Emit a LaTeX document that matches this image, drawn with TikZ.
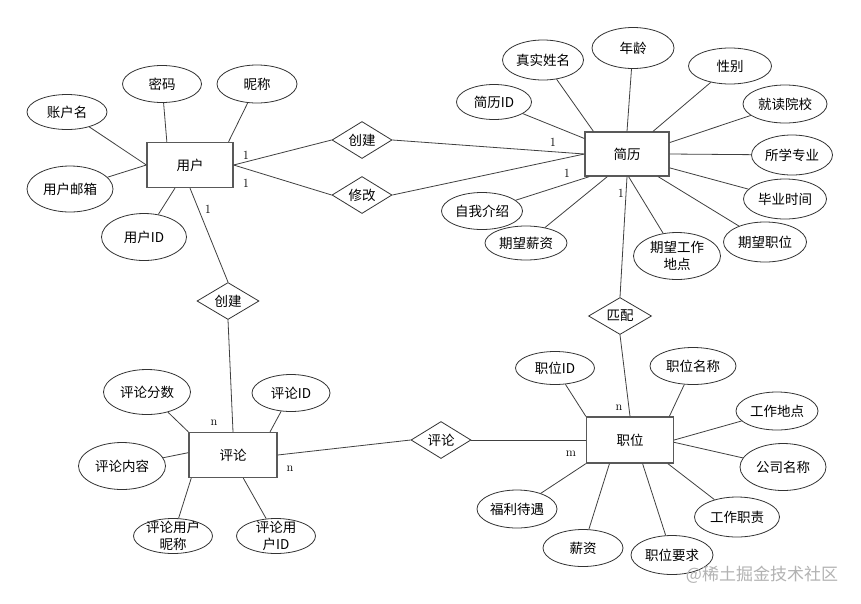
\documentclass[tikz,border=0pt]{standalone}
\usepackage{fontspec}
\newfontfamily\cjk{Noto Sans CJK SC}
\usetikzlibrary{shapes.geometric}

\begin{document}
\begin{tikzpicture}[x=1pt, y=-1pt, line width=0.8pt]
        \tikzset{entity/.style={rectangle, draw=black!65, line width=1.3pt, inner sep=0pt, minimum width=86pt, minimum height=45pt, font=\cjk\fontsize{13.5}{17}\selectfont},
          attr/.style={ellipse, draw=black!80, inner sep=0pt, minimum width=82pt, minimum height=38pt, align=center, font=\cjk\fontsize{13.5}{17}\selectfont},
          rel/.style={diamond, draw=black!80, aspect=1.6, inner sep=0pt, minimum width=60pt, minimum height=37pt, font=\cjk\fontsize{13.5}{17}\selectfont},
          card/.style={inner sep=0pt, font=\fontsize{12.5}{14}\selectfont},
          link/.style={draw=black!75}}
        \fill[white] (0,0) rectangle (861,603);
        \useasboundingbox (0,0) rectangle (861,603);
        % entities
        \node[entity] (yh) at (190,165) {用户};
        \node[entity, minimum width=84pt, minimum height=44pt] (jl) at (627,154) {简历};
        \node[entity, minimum width=88pt] (pl) at (233,455) {评论};
        \node[entity, minimum width=87pt, minimum height=46pt] (zw) at (630,440) {职位};
        % relations
        \node[rel] (cj1) at (362,140) {创建};
        \node[rel] (xg) at (362,195) {修改};
        \node[rel, minimum width=62pt] (cj2) at (228,301) {创建};
        \node[rel, minimum width=63pt] (pp) at (620,316) {匹配};
        \node[rel] (plr) at (441,440) {评论};
        % attributes of the user
        \node[attr, minimum width=80pt, minimum height=35pt] (zhm) at (67,112) {账户名};
        \node[attr, minimum width=79pt, minimum height=37pt] (mm) at (162,84) {密码};
        \node[attr, minimum width=80pt] (nc) at (257,84) {昵称};
        \node[attr, minimum width=86pt, minimum height=46pt] (yx) at (70,189) {用户邮箱};
        \node[attr, minimum width=85pt, minimum height=47pt] (yid) at (144,237) {用户ID};
        % attributes of the resume
        \node[attr, minimum width=75pt, minimum height=35pt] (jlid) at (494,102) {简历ID};
        \node[attr, minimum width=81pt, minimum height=40pt] (xm) at (543,60) {真实姓名};
        \node[attr, minimum width=82pt, minimum height=41pt] (nl) at (633,48) {年龄};
        \node[attr, minimum width=83pt, minimum height=36pt] (xb) at (730,66) {性别};
        \node[attr, minimum width=84pt] (jd) at (785,104) {就读院校};
        \node[attr, minimum width=81pt, minimum height=40pt] (zy) at (792,155) {所学专业};
        \node[attr, minimum width=83pt, minimum height=40pt] (by) at (785,199) {毕业时间};
        \node[attr, minimum width=83pt, minimum height=40pt] (qzw) at (765,242) {期望职位};
        \node[attr, minimum width=87pt, minimum height=47pt] (qdd) at (677,256) {期望工作\\地点};
        \node[attr, minimum width=82pt, minimum height=34pt] (qxz) at (526,243) {期望薪资};
        \node[attr, minimum width=81pt, minimum height=37pt] (zwjs) at (482,211) {自我介绍};
        % attributes of the comment
        \node[attr, minimum width=87pt, minimum height=45pt] (fs) at (147,392) {评论分数};
        \node[attr, minimum width=78pt, minimum height=37pt] (plid) at (291,393) {评论ID};
        \node[attr, minimum width=87pt, minimum height=47pt] (nr) at (122,466) {评论内容};
        \node[attr, minimum width=79pt, minimum height=35pt, inner ysep=-3.5pt] (plnc) at (173,536) {评论用户\\昵称};
        \node[attr, minimum width=79pt, minimum height=35pt, inner ysep=-3.5pt] (pluid) at (276,536) {评论用\\户ID};
        % attributes of the job
        \node[attr, minimum width=79pt, minimum height=33pt] (zwid) at (555,368) {职位ID};
        \node[attr, minimum width=86pt, minimum height=37pt] (zwmc) at (693,366) {职位名称};
        \node[attr, minimum width=82pt] (gzdd) at (777,411) {工作地点};
        \node[attr, minimum width=86pt, minimum height=47pt] (gsmc) at (783,467) {公司名称};
        \node[attr, minimum width=85pt, minimum height=40pt] (gzzz) at (737,517) {工作职责};
        \node[attr, minimum width=82pt, minimum height=39pt] (zwyq) at (672,555) {职位要求};
        \node[attr, minimum width=80pt, minimum height=37pt] (xz) at (583,548) {薪资};
        \node[attr, minimum width=80pt] (fl) at (517,509) {福利待遇};
        % cardinalities
        \node[card] (c1) at (246,155) {1};
        \node[card] (c2) at (246,183) {1};
        \node[card] (c3) at (208,209) {1};
        \node[card] (c4) at (553,142) {1};
        \node[card] (c5) at (567,173) {1};
        \node[card] (c6) at (621,193) {1};
        \node[card] (c7) at (619,408) {n};
        \node[card] (c8) at (571,454) {m};
        \node[card] (c9) at (214,423) {n};
        \node[card] (c10) at (290,469) {n};
        % relation links
        \draw[link] (yh.east) -- (cj1.west);
        \draw[link] (yh.east) -- (xg.west);
        \draw[link] (cj1.east) -- (jl.west);
        \draw[link] (xg.east) -- (jl.west);
        \draw[link] (yh.south) -- (cj2.north);
        \draw[link] (cj2.south) -- (pl.north);
        \draw[link] (jl.south) -- (pp.north);
        \draw[link] (pp.south) -- (zw.north);
        \draw[link] (pl.east) -- (plr.west);
        \draw[link] (plr.east) -- (zw.west);
        % attribute links
        \draw[link] (zhm) -- (yh.west);
        \draw[link] (yx) -- (yh.west);
        \draw[link] (mm) -- (yh.135);
        \draw[link] (nc) -- (yh.31);
        \draw[link] (yid) -- (yh.237);
        \draw[link] (jlid) -- (jl.160);
        \draw[link] (xm) -- (jl.146);
        \draw[link] (nl) -- (jl.north);
        \draw[link] (xb) -- (jl.41);
        \draw[link] (jd) -- (jl.15);
        \draw[link] (zy) -- (jl.east);
        \draw[link] (by) -- (jl.-18);
        \draw[link] (qzw) -- (jl.-36);
        \draw[link] (qdd) -- (jl.-86);
        \draw[link] (qxz) -- (jl.229);
        \draw[link] (zwjs) -- (jl.211);
        \draw[link] (fs) -- (pl.north west);
        \draw[link] (plid) -- (pl.32);
        \draw[link] (nr) -- (pl.177);
        \draw[link] (plnc) -- (pl.209);
        \draw[link] (pluid) -- (pl.-66);
        \draw[link] (zwid) -- (zw.north west);
        \draw[link] (zwmc) -- (zw.31);
        \draw[link] (gzdd) -- (zw.east);
        \draw[link] (gsmc) -- (zw.-3);
        \draw[link] (gzzz) -- (zw.-32);
        \draw[link] (zwyq) -- (zw.-62);
        \draw[link] (xz) -- (zw.229);
        \draw[link] (fl) -- (zw.south west);
        % watermark
        \node[text=black!30, font=\cjk\fontsize{17}{20}\selectfont] (wm) at (762,575) {@稀土掘金技术社区};
    \end{tikzpicture}
\end{document}
